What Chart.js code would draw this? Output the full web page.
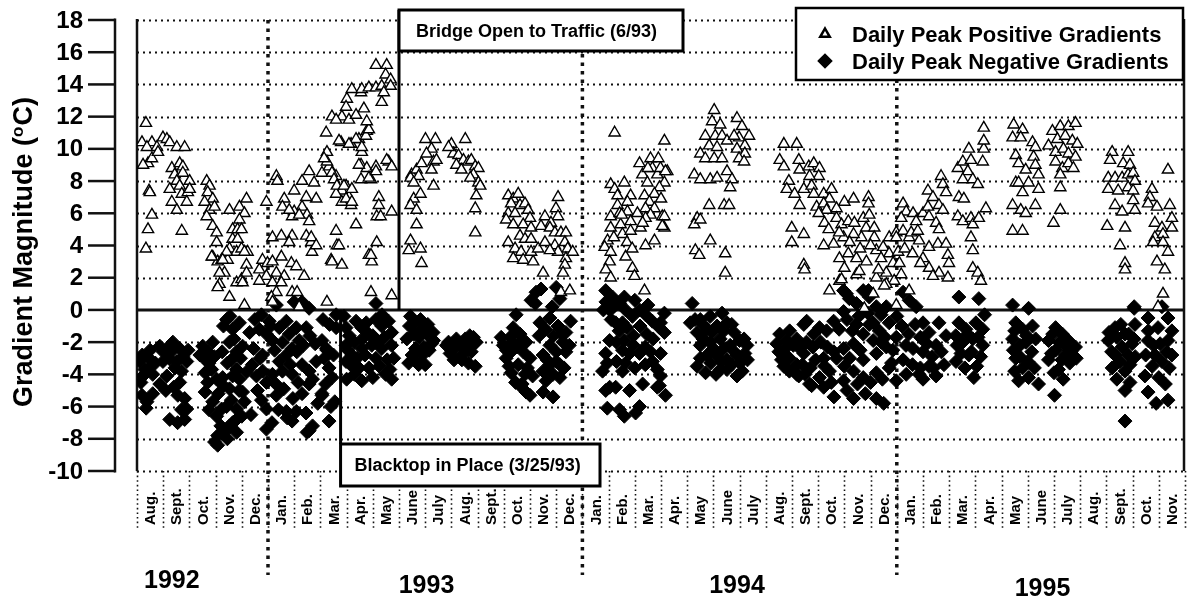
<!DOCTYPE html>
<html>
<head>
<meta charset="utf-8">
<script src="https://cdn.jsdelivr.net/npm/chart.js@4"></script>
<style>
  html, body { margin: 0; padding: 0; background: #fff; }
  canvas { display: block; }
</style>
</head>
<body>
<canvas id="gradients" width="1193" height="597"></canvas>
<script>
// x values are months counted from 1 Aug 1992, y values are degrees C
var monthLabels = ['Aug.', 'Sept.', 'Oct.', 'Nov.', 'Dec.',
  'Jan.', 'Feb.', 'Mar.', 'Apr.', 'May', 'June', 'July', 'Aug.', 'Sept.', 'Oct.', 'Nov.', 'Dec.',
  'Jan.', 'Feb.', 'Mar.', 'Apr.', 'May', 'June', 'July', 'Aug.', 'Sept.', 'Oct.', 'Nov.', 'Dec.',
  'Jan.', 'Feb.', 'Mar.', 'Apr.', 'May', 'June', 'July', 'Aug.', 'Sept.', 'Oct.', 'Nov.'];
var yearLabels = ['1992', '1993', '1994', '1995'];
var yearLabelAt = [1.33, 11.05, 22.9, 34.56];
var yearLabelBase = [588, 593, 593, 596];
var yearStarts = [5, 17, 29];
var yTicks = [18, 16, 14, 12, 10, 8, 6, 4, 2, 0, -2, -4, -6, -8, -10];
var blacktopAt = 7.77;   // 3/25/93
var bridgeAt = 10;       // 6/93

var pos1992 = [[0.34,11.6],[0.19,10.4],[0.57,10.4],[0.38,10.1],[0.76,10.1],[0.99,10.7],[1.14,10.6],[1.25,10.4],[1.52,10.1],[1.82,10.1],
  [0.42,9.1],[0.23,9.0],[0.57,9.4],[0.80,9.8],[0.46,7.4],[0.49,7.3],[0.57,5.9],[0.42,5.0],[0.34,3.8],[1.33,8.8],[1.63,9.1],[1.75,8.9],
  [1.44,8.4],[1.75,8.5],[2.01,8.0],[1.52,8.0],[1.63,7.7],[1.25,7.5],[1.71,7.2],[1.94,7.3],[1.33,6.7],[1.52,6.2],[1.90,6.7],[2.01,7.5],
  [1.71,4.9],[2.66,8.0],[2.77,7.7],[2.70,7.3],[2.89,6.9],[2.58,6.7],[2.77,6.2],[2.96,6.4],[2.66,5.8],[2.89,5.2],[3.04,4.8],[3.04,4.2],
  [2.89,3.3],[3.08,3.0],[3.23,3.1],[3.15,1.6],[3.53,6.2],[3.65,5.0],[3.91,6.4],[4.18,6.9],[4.10,6.0],[3.91,5.6],[3.84,5.0],[3.65,4.4],
  [3.53,3.8],[3.80,3.6],[3.99,3.8],[4.22,3.6],[4.18,2.8],[3.80,1.7],[3.99,1.9],[3.46,3.1],[3.34,2.3],[3.42,3.6],[3.08,1.4],[3.53,0.8],
  [4.10,0.3],[2.85,3.3],[3.27,3.1],[3.15,2.3],[4.10,3.6],[3.84,4.4],[3.99,5.0],[4.18,2.3],[4.03,1.7],[4.67,2.5],[4.79,3.1],[4.98,2.9],
  [4.94,2.1],[4.67,1.8],[4.94,6.7]];
var pos1993 = [[5.17,3.0],[5.51,3.3],[5.89,2.9],[6.08,2.7],[6.38,2.1],[5.32,2.3],[5.62,2.1],[5.17,1.7],[5.51,1.7],[5.92,1.1],[6.11,1.1],
  [5.32,1.1],[5.13,0.8],[5.17,0.5],[6.19,0.2],[7.25,0.5],[5.32,8.3],[5.36,8.0],[5.62,6.9],[5.55,6.4],[6.00,7.4],[6.30,8.0],[6.57,8.6],
  [6.76,7.9],[7.06,8.5],[7.33,8.9],[7.60,8.3],[7.25,9.8],[7.25,9.2],[7.79,10.4],[8.17,10.3],[8.47,10.6],[8.58,9.8],[7.22,11.0],[8.77,11.1],
  [8.55,9.0],[8.77,8.8],[9.12,8.9],[9.61,9.2],[8.93,8.1],[7.98,7.7],[7.82,7.4],[7.60,7.2],[8.09,7.0],[8.17,6.5],[7.82,6.7],[6.84,6.9],
  [6.46,7.0],[6.30,6.4],[6.49,5.9],[6.00,6.1],[5.92,5.8],[6.57,5.5],[6.19,5.9],[5.17,4.5],[5.51,4.6],[5.92,4.6],[6.46,4.6],[6.65,4.2],
  [6.68,3.6],[5.81,4.2],[7.60,4.9],[7.63,4.0],[8.36,5.3],[9.23,7.0],[9.23,6.5],[9.15,5.8],[9.72,6.1],[9.15,4.2],[8.85,3.4],[8.96,3.0],
  [7.41,3.1],[7.82,2.8],[8.93,1.1],[9.72,0.9],[5.81,6.2],[6.65,4.5],[6.84,4.0],[7.14,9.4],[7.44,8.5],[7.52,8.1],[7.63,7.7],[7.90,7.7],
  [7.98,6.9],[8.20,7.5],[8.20,6.7],[7.71,4.0],[7.44,3.0],[8.93,3.4],[9.30,5.8],[8.47,9.0],[8.55,8.1],[8.85,8.2],[9.12,8.6],[9.53,9.3],
  [9.72,8.9],[8.36,10.6],[8.09,10.3],[7.71,10.5],[8.58,10.1],[8.74,10.8],[8.85,11.2],[8.77,11.7],[8.66,12.5],[8.55,13.5],[8.20,13.7],
  [8.01,13.1],[7.98,12.6],[7.82,12.0],[7.44,12.0],[7.60,11.8],[8.09,11.8],[8.36,12.1],[8.58,13.7],[8.85,13.8],[9.12,13.8],[9.34,13.9],
  [9.12,15.2],[9.53,15.2],[9.49,14.6],[9.68,14.3],[9.34,12.9],[9.68,13.9],[9.42,13.5],
  [10.48,8.4],[10.44,8.2],[10.67,8.7],[10.86,9.1],[11.01,10.6],[11.39,10.6],[11.24,10.0],[11.05,9.7],[11.32,9.2],[11.43,9.3],[11.24,8.7],
  [10.75,8.3],[10.56,7.9],[11.32,7.7],[10.56,6.9],[10.82,7.2],[10.44,6.5],[10.67,6.2],[10.67,5.3],[10.44,4.3],[10.82,3.8],[10.37,3.7],
  [10.86,2.9],[12.00,10.3],[12.53,10.6],[12.08,9.7],[12.27,9.6],[12.46,9.3],[12.65,9.2],[12.76,9.3],[12.19,9.0],[12.38,8.7],[12.91,8.9],
  [13.03,8.8],[12.84,8.4],[13.03,7.9],[13.10,7.7],[12.72,8.2],[12.95,7.1],[11.89,10.1],[12.91,6.3],[12.91,4.8],
  [14.17,7.1],[14.36,6.9],[14.55,7.2],[14.28,6.6],[14.62,6.5],[14.81,6.6],[14.17,6.0],[14.43,6.0],[14.93,6.2],[15.00,5.7],[14.09,5.6],
  [14.36,5.3],[14.74,5.3],[15.04,5.1],[14.62,4.6],[14.81,4.4],[15.04,4.4],[14.17,4.2],[14.43,3.8],[14.66,3.6],[14.36,3.2],[14.74,3.1],
  [15.12,3.0],[15.04,3.6],[15.31,3.8],[15.50,2.3],[16.07,7.0],[15.99,6.3],[16.07,5.8],[15.57,5.8],[15.80,5.4],[15.42,5.2],[15.76,5.1],
  [15.95,4.8],[16.18,4.8],[16.37,4.8],[16.33,4.2],[16.44,3.8],[15.95,4.0],[16.07,3.6],[16.37,3.2],[16.33,2.8],[16.26,2.3],[15.57,4.2],
  [15.76,3.7],[16.18,1.1],[16.52,1.2],[16.63,3.6]];
var pos1994 = [[18.23,11.0],[18.08,7.8],[18.23,7.5],[18.34,7.1],[18.84,7.1],[18.72,6.7],[18.34,6.5],[18.08,5.8],[18.42,6.0],[18.72,6.1],
  [18.84,5.5],[18.46,5.3],[18.08,5.1],[18.53,4.7],[18.84,4.9],[17.96,4.3],[17.85,3.9],[18.08,3.6],[18.04,3.0],[17.89,2.5],[18.08,2.0],
  [18.91,2.6],[18.99,2.1],[18.65,3.3],[19.22,5.1],[19.41,4.0],[19.75,4.3],[19.37,7.1],[19.18,9.1],[19.29,8.4],[19.60,9.4],[19.67,8.8],
  [19.48,7.9],[19.86,8.4],[19.98,8.8],[20.24,8.6],[20.13,7.9],[19.94,7.6],[19.75,7.2],[19.56,6.7],[19.41,6.3],[19.75,6.3],[20.05,5.8],
  [20.13,5.1],[19.60,5.9],[19.41,5.7],[20.13,10.5],[19.37,1.2],[20.17,8.6],[20.13,5.8],[20.05,5.2],
  [18.50,5.9],[18.70,4.2],[18.90,3.8],[19.10,6.0],[19.30,5.4],[19.50,8.8],[19.90,9.4],[20.00,6.9],[18.20,4.5],[18.60,7.9],
  [22.03,12.4],[21.95,11.7],[22.26,11.5],[21.69,10.8],[22.07,10.8],[22.33,10.8],[22.52,10.5],[21.84,10.2],[22.14,10.1],[21.50,9.7],
  [21.69,9.4],[22.03,9.4],[22.33,9.4],[22.90,11.9],[23.09,11.4],[23.36,10.8],[22.98,10.7],[22.79,10.8],[23.20,10.2],[22.90,10.0],
  [23.20,9.7],[22.98,9.4],[23.17,9.2],[21.27,8.4],[21.50,8.1],[21.88,8.1],[22.14,8.2],[22.52,8.6],[22.71,8.1],[22.64,7.6],[21.84,6.5],
  [22.41,6.5],[22.60,6.5],[21.38,5.7],[21.27,5.3],[21.50,5.6],[21.88,4.3],[21.31,3.7],[21.46,3.4],[22.45,3.5],[22.45,2.3],
  [24.69,10.3],[25.18,10.3],[24.53,9.3],[24.69,8.9],[25.26,9.3],[25.29,8.7],[25.64,8.9],[25.83,9.1],[26.05,8.8],[26.02,8.3],[25.67,8.3],
  [24.88,8.0],[24.80,7.5],[25.10,7.2],[25.45,7.5],[25.75,7.7],[25.83,7.2],[26.21,7.2],[26.51,7.5],[26.43,6.9],[25.29,6.5],[25.94,6.4],
  [26.21,6.6],[26.32,6.2],[26.70,6.3],[27.00,6.7],[27.35,6.9],[27.92,7.0],[27.92,6.6],[24.99,5.1],[25.45,4.7],[24.99,4.2],[26.02,6.0],
  [26.24,5.4],[26.70,5.7],[26.89,5.3],[27.15,5.5],[27.38,5.4],[27.72,5.7],[27.95,5.9],[27.83,5.1],[28.14,5.1],[28.14,4.5],[27.65,4.5],
  [27.35,4.7],[26.97,4.5],[26.59,4.1],[26.21,4.0],[26.81,3.2],[27.15,3.5],[27.46,3.2],[27.84,3.0],[28.22,3.7],[28.48,3.9],[28.71,4.5],
  [28.98,4.8],[28.71,3.5],[28.86,2.9],[28.60,2.3],[28.90,1.8],[28.60,1.6],[28.22,2.0],[27.46,2.2],[27.57,2.4],[26.81,1.8],[26.43,1.2],
  [25.45,2.8],[25.48,2.5],[27.76,0.1],[28.10,1.0],[28.52,1.5],[26.89,1.9],
  [26.40,5.0],[26.80,4.8],[27.20,4.2],[27.60,3.8],[28.00,4.0],[28.40,3.2],[27.00,2.6],[28.30,2.5]];
var pos1995 = [[29.10,2.9],[29.17,2.2],[29.24,6.6],[29.36,6.1],[29.17,5.7],[29.62,6.0],[29.74,5.5],[30.00,6.0],[30.19,6.4],[30.23,5.8],
  [30.50,5.4],[30.61,5.0],[30.19,7.4],[30.38,7.0],[30.69,8.3],[30.76,7.8],[30.88,7.3],[30.61,6.5],[30.76,6.2],[29.24,4.9],[29.47,4.5],
  [28.98,4.5],[29.85,4.3],[30.23,3.9],[30.57,4.1],[30.88,4.1],[30.00,3.2],[30.23,2.6],[30.95,3.4],[30.99,2.9],[30.61,2.3],[30.95,2.0],
  [30.38,2.1],[29.47,1.2],[28.98,0.3],[29.05,3.6],[29.30,3.8],[29.60,3.5],[29.90,2.9],[29.55,4.8],[29.80,4.9],
  [31.33,8.8],[31.52,9.2],[31.75,10.0],[31.83,9.3],[31.71,8.6],[31.52,8.1],[31.90,8.1],[32.09,7.8],[32.28,9.2],[32.32,10.0],[32.32,10.5],
  [32.32,11.3],[31.37,7.0],[31.56,6.9],[31.33,5.8],[31.52,5.5],[31.83,5.7],[31.90,5.3],[32.13,5.7],[32.40,6.3],[31.83,4.5],[31.90,3.7],
  [31.90,2.6],[32.09,2.3],[32.21,1.8],
  [33.46,11.5],[33.80,11.2],[33.42,10.7],[33.73,10.7],[34.18,10.4],[34.29,10.1],[34.22,9.5],[33.54,9.6],[33.65,9.1],[33.92,8.7],
  [34.29,9.0],[34.41,8.4],[33.54,7.9],[33.80,7.3],[33.65,7.9],[34.03,7.9],[34.41,7.5],[33.42,6.5],[33.73,6.2],[34.29,6.5],[33.92,6.0],
  [33.42,4.9],[33.80,4.9],[34.94,11.1],[35.24,11.4],[35.55,11.4],[35.82,11.6],[35.13,10.6],[35.43,10.8],[35.70,10.5],[35.89,10.3],
  [34.79,10.2],[35.06,9.8],[35.36,10.0],[35.55,9.7],[35.82,9.5],[35.06,9.2],[35.32,8.8],[35.55,9.1],[35.74,8.8],[35.24,8.4],[35.24,7.6],
  [35.24,6.2],[34.98,5.4],
  [37.22,9.8],[37.83,9.8],[37.14,9.3],[37.64,9.1],[37.90,9.0],[37.07,8.2],[37.33,8.2],[37.60,8.2],[37.83,8.4],[38.02,8.5],[38.09,8.0],
  [37.07,7.5],[37.45,7.4],[37.83,7.6],[38.02,7.4],[37.33,6.5],[37.60,6.1],[38.02,6.8],[38.09,6.2],[37.03,5.2],[37.71,5.1],[37.52,4.0],
  [37.71,2.9],[37.71,2.5],[38.74,7.5],[38.66,7.0],[38.59,6.6],[38.93,6.4],[39.42,6.5],[39.50,5.7],[39.35,8.7],[38.85,5.4],[39.12,5.1],
  [39.50,5.1],[38.85,4.5],[39.16,4.7],[38.78,4.2],[39.16,4.2],[39.35,3.6],[38.93,3.0],[39.23,2.5],[39.16,1.0],[38.97,0.2]];

var neg1992 = [[0.11,-3.2],[0.30,-3.7],[0.49,-3.05],[0.23,-4.1],[0.19,-5.3],[0.38,-5.7],[0.87,-2.25],[1.14,-2.4],[1.37,-2.0],[1.63,-2.4],
  [0.99,-3.2],[1.25,-3.05],[1.52,-3.2],[1.75,-2.9],[1.90,-3.2],[1.14,-4.1],[1.63,-4.5],[0.87,-4.6],[1.25,-6.8],[1.82,-5.5],[1.90,-6.15],
  [1.82,-6.8],[1.56,-5.3],[2.51,-2.25],[2.58,-3.05],[2.70,-2.6],[2.89,-2.0],[2.85,-3.7],[2.70,-4.5],[3.04,-4.3],[3.27,-4.2],[2.89,-5.7],
  [3.23,-6.15],[3.42,-6.0],[3.53,-4.9],[3.04,-6.6],[3.08,-7.8],[2.96,-8.2],[3.34,-7.6],[3.65,-7.0],[3.80,-6.8],[3.08,-8.4],[3.53,-7.2],
  [3.80,-7.6],[3.42,-0.6],[3.65,-1.2],[3.91,-0.8],[3.53,-2.0],[3.80,-2.6],[4.03,-2.25],[3.80,-3.7],[3.91,-4.3],[3.65,-4.1],[4.18,-3.85],
  [4.03,-5.1],[3.80,-6.15],[4.10,-5.7],[4.67,-1.2],[4.94,-1.5],[4.56,-4.1],[4.94,-4.5],[4.94,-6.15],[4.94,-7.4],
  [0.20,-2.8],[0.45,-3.6],[0.60,-4.0],[0.15,-4.5],[0.50,-2.5],[0.70,-3.3],[0.35,-6.1],[0.60,-5.2],
  [1.00,-2.6],[1.30,-2.6],[1.45,-3.6],[1.70,-3.8],[1.95,-2.5],[1.40,-4.8],[1.10,-5.0],[1.70,-6.2],[1.55,-7.0],
  [2.40,-2.8],[2.60,-3.9],[2.75,-3.3],[2.95,-2.9],[2.60,-5.1],[3.10,-5.2],[2.75,-6.2],
  [3.30,-1.0],[3.55,-0.4],[3.70,-1.8],[3.25,-2.6],[3.45,-3.3],[3.60,-3.1],[3.95,-3.0],[3.30,-4.7],[3.60,-5.6],[3.90,-5.0],[4.00,-6.6],
  [3.20,-7.2],[3.45,-8.0],[4.30,-1.4],[4.50,-0.6],[4.75,-0.3],[4.45,-2.4],[4.70,-3.0],[4.40,-3.4],[4.80,-3.8],[4.60,-5.0],[4.35,-6.5],
  [4.75,-5.6]];
var neg1993 = [[5.05,-0.7],[5.43,-1.1],[5.70,-0.7],[5.81,-1.5],[6.08,-1.1],[5.17,-1.9],[4.79,-2.8],[5.43,-3.2],[5.70,-2.8],[5.92,-2.4],
  [6.19,-1.9],[6.46,-1.1],[6.57,0.1],[6.30,0.5],[6.00,0.5],[5.32,0.3],[5.17,-4.0],[5.55,-3.8],[5.92,-4.0],[6.30,-3.4],[6.57,-3.8],
  [6.84,-3.2],[7.22,-2.4],[7.33,-3.6],[6.57,-4.6],[6.30,-5.2],[7.06,-5.2],[5.32,-5.3],[5.70,-6.3],[5.92,-6.9],[6.57,-7.5],[7.33,-6.9],
  [7.06,-1.9],[7.60,-1.1],[5.73,-6.7],[6.08,-6.3],[6.49,-7.6],[7.06,-5.3],[7.25,-2.5],[7.60,-0.3],[7.98,-1.1],[8.36,-0.7],[8.58,-1.1],
  [8.85,-1.5],[9.12,-0.6],[9.34,-1.0],[9.72,-1.4],[7.98,-2.2],[8.20,-2.8],[8.58,-2.4],[8.96,-2.2],[9.34,-2.4],[9.72,-2.2],[7.98,-3.2],
  [8.47,-3.6],[8.85,-3.6],[9.12,-3.0],[9.49,-4.0],[9.72,-4.3],[8.58,-4.4],[9.12,0.4],
  [5.10,-1.0],[5.25,-2.5],[5.55,-2.0],[5.85,-3.4],[5.30,-4.6],[5.60,-4.9],[5.95,-5.5],[5.40,-6.2],[5.15,-7.0],
  [6.10,-2.6],[6.35,-2.2],[6.60,-1.6],[6.80,-2.1],[6.70,-4.3],[6.15,-4.5],[6.90,-5.8],[6.45,-6.4],[6.70,-7.2],
  [7.10,-0.6],[7.35,-0.9],[7.50,-2.8],[7.15,-3.0],[7.45,-4.2],[7.20,-4.6],[7.55,-5.7],[7.40,-6.0],
  [7.90,-0.4],[8.10,-1.6],[8.30,-2.0],[8.05,-2.5],[8.40,-3.0],[8.15,-3.4],[8.70,-2.8],[8.30,-4.0],[8.00,-4.3],[8.60,-1.8],[8.75,-0.8],
  [9.00,-1.6],[9.20,-2.0],[9.45,-1.7],[9.60,-0.7],[9.25,-3.5],[9.55,-3.1],[9.80,-3.0],[9.35,-0.3],[9.00,-4.2],[9.65,-3.7],
  [10.44,-0.4],[10.82,-0.6],[10.56,-1.5],[10.30,-1.8],[10.75,-1.7],[11.05,-1.5],[11.24,-2.1],[10.63,-2.4],[10.94,-2.3],[11.32,-1.9],
  [10.37,-3.3],[10.75,-3.4],[10.94,-0.9],[10.40,-1.0],[10.60,-0.8],[10.85,-1.2],[11.10,-0.9],[11.30,-1.4],[10.50,-2.8],[10.90,-2.8],
  [11.15,-2.5],[10.65,-3.2],[11.00,-3.4],
  [11.89,-2.0],[12.19,-1.8],[12.53,-1.8],[12.84,-1.7],[12.08,-2.4],[12.46,-2.4],[12.76,-2.6],[12.95,-2.0],[12.65,-3.3],[12.91,-3.5],
  [12.31,-2.9],[11.81,-2.2],[11.95,-2.7],[12.15,-2.2],[12.35,-2.1],[12.60,-2.5],[12.80,-2.2],[12.40,-3.1],[12.10,-3.1],[12.70,-1.6],
  [14.47,-0.3],[14.36,-1.1],[14.24,-1.7],[14.62,-1.5],[13.98,-2.2],[14.28,-2.6],[14.85,-2.0],[14.74,-2.6],[15.00,-3.0],[14.09,-3.0],
  [14.55,-3.4],[14.28,-3.9],[14.81,-4.0],[14.62,-4.7],[14.85,-5.1],[15.00,-5.3],[13.90,-1.7],[15.23,1.1],[15.42,1.3],[15.04,0.6],
  [16.00,1.4],[16.14,0.7],[15.38,-0.8],[15.76,-0.5],[16.07,-1.0],[16.37,-1.4],[16.26,-2.0],[15.76,-2.2],[15.50,-2.8],[16.00,-2.6],
  [16.37,-2.6],[15.76,-3.4],[16.14,-3.4],[15.50,-3.8],[15.88,-4.0],[15.61,-4.4],[15.50,-5.1],[15.88,-5.4],[16.14,-4.2],
  [14.10,-2.5],[14.35,-2.0],[14.50,-2.3],[14.70,-1.9],[14.20,-3.5],[14.45,-4.5],[14.90,-3.6],[15.10,-4.1],[14.70,-4.6],[15.20,0.4],
  [15.35,-1.6],[15.60,-1.2],[15.90,-1.6],[16.20,-1.5],[15.65,-3.1],[16.00,-3.2],[16.30,-3.6],[16.50,-2.2],[16.55,-0.7],[15.85,0.2]];
var neg1994 = [[17.89,1.2],[18.15,0.8],[18.04,0.0],[18.42,0.4],[18.65,0.0],[18.53,-0.8],[18.27,-0.8],[18.91,-0.4],[19.18,0.0],[19.41,-0.3],
  [19.67,-0.7],[19.94,-1.1],[18.04,-1.9],[17.89,-2.7],[18.53,-2.5],[18.80,-2.7],[19.18,-2.7],[18.65,-3.3],[18.53,-3.8],[17.77,-3.8],
  [18.04,-4.8],[17.89,-5.0],[18.27,-4.8],[18.80,-5.0],[18.42,-6.2],[19.18,-6.0],[19.03,-6.4],[19.86,-3.7],[19.94,-4.7],[19.67,-3.2],
  [20.17,-5.3],[19.86,-4.8],[19.98,-0.8],[20.13,-1.4],[19.98,-2.7],[19.98,-4.1],[20.13,-0.2],
  [17.90,0.5],[18.20,0.2],[18.10,-0.6],[18.40,-1.3],[18.70,-1.1],[18.95,-1.6],[19.20,-1.0],[19.45,-1.5],[19.70,-1.8],[18.30,-2.0],
  [18.60,-1.9],[18.95,-2.2],[19.40,-2.3],[19.60,-2.6],[17.95,-3.3],[18.30,-3.2],[19.00,-3.6],[19.40,-3.4],[17.80,0.0],[19.00,0.6],
  [19.50,0.3],[18.60,0.8],[17.95,-6.1],[18.60,-6.6],[19.30,-4.6],
  [21.19,0.4],[21.12,-0.8],[21.50,-0.6],[21.88,-0.4],[22.33,-0.2],[21.38,-1.4],[21.76,-1.2],[22.14,-1.0],[22.52,-0.8],[22.79,-1.4],
  [23.17,-1.8],[23.28,-2.2],[21.50,-2.2],[21.88,-2.0],[22.26,-1.8],[22.64,-2.2],[21.76,-2.8],[22.14,-2.8],[22.52,-3.1],[22.90,-2.8],
  [21.38,-3.5],[22.26,-3.7],[22.52,-3.7],[23.02,-3.3],
  [21.30,-0.6],[21.60,-0.9],[21.95,-1.4],[22.40,-1.3],[22.70,-0.9],[23.00,-1.9],[23.20,-2.7],[21.60,-1.8],[22.00,-2.4],[22.40,-2.4],
  [22.80,-2.6],[21.50,-3.0],[21.90,-3.3],[22.30,-3.2],[22.70,-3.4],[23.10,-3.8],[21.70,-3.9],[22.10,-4.0],[22.90,-4.1],[23.30,-3.1],
  [24.53,-1.5],[24.80,-1.9],[24.42,-2.1],[24.91,-1.3],[25.18,-1.8],[25.45,-0.9],[25.56,-0.7],[25.83,-1.5],[26.05,-1.1],[26.32,-1.3],
  [26.59,-0.7],[26.97,1.2],[27.19,0.7],[27.46,0.4],[27.72,1.2],[27.95,0.8],[28.22,0.2],[26.97,-0.1],[24.69,-2.7],[25.18,-3.4],
  [25.45,-2.7],[25.18,-4.0],[25.67,-4.6],[26.05,-4.2],[26.43,-3.8],[26.21,-3.0],[26.70,-3.0],[26.97,-2.4],[27.35,-2.1],[27.72,-1.5],
  [27.46,-0.9],[27.95,-0.9],[28.33,-1.3],[28.71,-0.8],[28.98,-1.7],[28.60,-2.3],[28.22,-2.7],[27.72,-3.1],[27.35,-3.8],[26.97,-4.4],
  [27.72,-4.2],[28.22,-3.9],[28.71,-3.6],[27.35,-5.5],[28.22,-5.5],[28.98,-4.4],[26.21,-4.8],[24.69,-3.5],[25.26,-4.1],[25.75,-4.7],
  [27.08,1.0],[27.92,1.2],[28.60,0.2],
  [24.50,-2.6],[24.80,-2.3],[25.05,-2.2],[25.30,-2.4],[25.55,-2.0],[25.80,-2.3],[26.10,-2.0],[26.35,-2.3],[24.60,-3.1],[24.90,-3.0],
  [25.40,-3.4],[25.70,-3.6],[25.90,-3.1],[26.25,-3.5],[24.90,-3.8],[25.50,-4.0],[26.50,-4.5],[26.60,-2.6],[26.80,-1.2],[27.10,-0.6],
  [27.30,-1.3],[27.55,-0.4],[27.90,-0.2],[28.10,-0.8],[28.40,-0.3],[28.55,-1.7],[28.85,-2.5],[28.40,-2.0],[28.10,-1.9],[27.60,-2.5],
  [27.20,-3.0],[27.00,-3.5],[27.50,-4.6],[28.00,-4.5],[28.45,-4.3],[28.80,-3.3],[27.10,-5.0],[27.80,-5.2],[28.50,-5.8],[26.60,-5.4]];
var neg1995 = [[29.24,-3.1],[29.62,-2.4],[29.36,-4.0],[29.85,-4.0],[29.24,1.1],[29.47,0.6],[29.74,0.2],[30.00,-0.8],[30.23,-1.4],
  [30.61,-0.8],[30.88,-1.6],[30.50,-2.2],[30.00,-2.6],[30.23,-3.5],[30.50,-4.1],[30.00,-4.3],[31.37,0.8],[32.13,0.7],[31.37,-0.8],
  [31.64,-1.2],[32.02,-0.8],[32.28,-1.2],[31.90,-1.8],[31.52,-2.0],[32.28,-2.2],[31.75,-2.8],[31.26,-3.2],[31.94,-4.2],
  [29.00,-0.4],[29.20,-1.0],[29.45,-1.5],[29.70,-0.9],[29.35,-2.2],[29.60,-3.4],[29.90,-1.7],[30.15,-2.1],[30.35,-2.9],[30.70,-2.6],
  [30.80,-3.4],[30.40,-3.6],[29.90,-3.6],[31.25,-1.6],[31.45,-2.7],[31.70,-1.5],[31.85,-2.6],[32.10,-1.7],[32.20,-2.9],[31.60,-3.6],
  [31.30,-2.2],[32.35,-0.3],[32.05,-3.5],
  [33.42,0.3],[34.03,0.1],[33.54,-0.8],[33.80,-1.2],[34.18,-1.0],[33.42,-1.8],[33.92,-2.0],[33.54,-3.0],[33.80,-3.6],[34.03,-4.2],
  [34.41,-4.6],[33.65,-4.4],[35.06,-1.1],[35.32,-1.5],[35.55,-1.9],[35.82,-2.3],[34.79,-1.9],[35.06,-2.5],[35.43,-2.8],[34.79,-3.1],
  [35.17,-3.7],[35.02,-5.3],
  [33.50,-1.3],[33.70,-2.2],[33.95,-1.6],[34.15,-2.6],[33.45,-2.5],[33.70,-2.9],[34.00,-3.2],[34.25,-3.6],[33.50,-3.8],[34.30,-1.8],
  [34.95,-1.5],[35.20,-2.0],[35.40,-2.2],[35.65,-2.6],[35.30,-3.1],[35.60,-3.3],[35.85,-3.0],[35.00,-3.9],[35.35,-4.3],[34.90,-2.7],
  [38.06,0.2],[37.33,-1.1],[37.71,-1.5],[38.09,-0.9],[37.07,-1.9],[37.60,-2.3],[37.98,-2.1],[37.33,-2.8],[37.83,-2.8],[37.22,-3.6],
  [37.71,-3.8],[37.71,-5.0],[38.59,-0.5],[38.97,-1.1],[39.35,-1.9],[39.50,-2.8],[38.59,-1.9],[38.85,-2.8],[39.12,-3.2],[38.47,-4.1],
  [38.59,-5.1],[39.35,-5.6],[39.35,-0.5],[39.12,0.2],[37.71,-6.9],[38.06,0.1],
  [37.10,-1.4],[37.40,-1.7],[37.55,-0.9],[37.85,-1.5],[38.05,-1.8],[37.20,-2.6],[37.50,-3.2],[37.90,-3.4],[38.10,-2.9],[37.40,-4.3],
  [37.90,-4.5],[38.60,-1.3],[38.80,-2.2],[39.05,-2.1],[39.30,-2.6],[38.75,-3.5],[39.00,-4.2],[39.40,-3.6],[39.25,-4.6],[38.90,-5.8],
  [38.50,-2.8],[39.50,-1.3]];

function toPoints(list) {
  return list.map(function (p) { return { x: p[0], y: p[1] }; });
}

var FONT = '"Liberation Sans", Arial, sans-serif';

function dotted(ctx, x1, y1, x2, y2, w, dash) {
  ctx.lineWidth = w;
  ctx.setLineDash(dash);
  ctx.beginPath();
  ctx.moveTo(x1, y1);
  ctx.lineTo(x2, y2);
  ctx.stroke();
}

var decor = {
  id: 'decor',
  beforeDatasetsDraw: function (chart) {
    var ctx = chart.ctx, a = chart.chartArea, x = chart.scales.x, y = chart.scales.y;
    ctx.save();
    ctx.strokeStyle = '#111';
    ctx.fillStyle = '#000';

    // dotted grid
    yTicks.forEach(function (v) {
      if (v === 0) return;
      var py = Math.round(y.getPixelForValue(v)) + 0.5;
      dotted(ctx, a.left, py, a.right, py, 2, [2, 4]);
    });
    // month separators under the plot
    for (var m = 0; m <= monthLabels.length; m++) {
      var px = Math.round(x.getPixelForValue(m)) + 0.5;
      dotted(ctx, px, a.bottom, px, a.bottom + 58, 1.6, [1.6, 3]);
    }
    // year boundaries
    yearStarts.forEach(function (m) {
      var px = x.getPixelForValue(m);
      dotted(ctx, px, a.top, px, a.bottom + 104, 3.5, [3.5, 5]);
    });
    ctx.setLineDash([]);
    // zero line
    var y0 = y.getPixelForValue(0);
    dotted(ctx, a.left, y0, a.right, y0, 3, []);
    // plot borders
    dotted(ctx, a.left, a.top - 1, a.left, a.bottom, 2.5, []);
    dotted(ctx, a.right - 1, a.top - 1, a.right - 1, a.bottom, 2.5, []);

    // separate y axis with tick marks
    var axX = a.left - 22;
    dotted(ctx, axX, y.getPixelForValue(18) - 1.5, axX, y.getPixelForValue(-10) + 1.5, 2.5, []);
    ctx.font = 'bold 24px ' + FONT;
    ctx.textAlign = 'right';
    ctx.textBaseline = 'middle';
    yTicks.forEach(function (v) {
      var py = y.getPixelForValue(v);
      dotted(ctx, axX - 27, py, axX, py, 2.5, []);
      ctx.fillText(String(v), axX - 32, py + 1);
    });

    // axis title with superscript o
    ctx.save();
    ctx.translate(25, 252);
    ctx.rotate(-Math.PI / 2);
    ctx.textAlign = 'left';
    ctx.textBaseline = 'middle';
    var t1 = 'Gradient Magnitude (', t2 = 'C)';
    ctx.font = 'bold 27px ' + FONT;
    var w1 = ctx.measureText(t1).width, w3 = ctx.measureText(t2).width;
    ctx.font = 'bold 17px ' + FONT;
    var w2 = ctx.measureText('o').width + 1;
    var sx = -(w1 + w2 + w3) / 2;
    ctx.font = 'bold 27px ' + FONT;
    ctx.fillText(t1, sx, 0);
    ctx.fillText(t2, sx + w1 + w2, 0);
    ctx.font = 'bold 17px ' + FONT;
    ctx.fillText('o', sx + w1, -7);
    ctx.restore();

    // month labels
    ctx.font = 'bold 15px ' + FONT;
    monthLabels.forEach(function (lab, i) {
      ctx.save();
      ctx.translate(x.getPixelForValue(i + 0.5), a.bottom + 54);
      ctx.rotate(-Math.PI / 2);
      ctx.textAlign = 'left';
      ctx.textBaseline = 'middle';
      ctx.fillText(lab, 0, 1);
      ctx.restore();
    });
    // year labels
    ctx.font = 'bold 25px ' + FONT;
    ctx.textAlign = 'center';
    ctx.textBaseline = 'alphabetic';
    yearLabels.forEach(function (lab, i) {
      ctx.fillText(lab, x.getPixelForValue(yearLabelAt[i]), yearLabelBase[i]);
    });
    ctx.restore();
  },
  afterDatasetsDraw: function (chart) {
    var ctx = chart.ctx, a = chart.chartArea, x = chart.scales.x, y = chart.scales.y;
    ctx.save();
    ctx.strokeStyle = '#000';
    ctx.fillStyle = '#000';
    ctx.setLineDash([]);
    var y0 = y.getPixelForValue(0);

    // bridge opened
    var bx = x.getPixelForValue(bridgeAt);
    dotted(ctx, bx, 10, bx, y0, 3, []);
    ctx.fillStyle = '#fff';
    ctx.fillRect(bx, 10, 683 - bx, 41);
    ctx.lineWidth = 3;
    ctx.strokeRect(bx, 10, 683 - bx, 41);
    ctx.fillStyle = '#000';
    ctx.font = 'bold 18px ' + FONT;
    ctx.textAlign = 'left';
    ctx.textBaseline = 'alphabetic';
    ctx.fillText('Bridge Open to Traffic (6/93)', bx + 17, 37);

    // blacktop placed
    var kx = x.getPixelForValue(blacktopAt);
    dotted(ctx, kx, y0, kx, 444, 3, []);
    ctx.fillStyle = '#fff';
    ctx.fillRect(kx, 444, 600 - kx, 42);
    ctx.lineWidth = 3;
    ctx.strokeRect(kx, 444, 600 - kx, 42);
    ctx.fillStyle = '#000';
    ctx.fillText('Blacktop in Place (3/25/93)', kx + 14, 471);

    // legend box
    ctx.fillStyle = '#fff';
    ctx.fillRect(796, 8, 387, 72);
    ctx.lineWidth = 2.5;
    ctx.strokeRect(796, 8, 387, 72);
    var ds = chart.data.datasets;
    Chart.helpers.drawPoint(ctx, { pointStyle: 'triangle', radius: 5.5, borderWidth: 2 }, 825, 34);
    ctx.fillStyle = '#000';
    Chart.helpers.drawPoint(ctx, { pointStyle: 'rectRot', radius: 6, borderWidth: 1 }, 825, 61);
    ctx.fillStyle = '#000';
    ctx.font = 'bold 22px ' + FONT;
    ctx.fillText(ds[0].label, 852, 42);
    ctx.fillText(ds[1].label, 852, 69);
    ctx.restore();
  }
};

new Chart(document.getElementById('gradients'), {
  type: 'scatter',
  data: {
    datasets: [{
      label: 'Daily Peak Positive Gradients',
      data: toPoints(pos1992.concat(pos1993, pos1994, pos1995)),
      pointStyle: 'triangle',
      pointRadius: 6.5,
      backgroundColor: '#fff',
      borderColor: '#000',
      borderWidth: 1.4
    }, {
      label: 'Daily Peak Negative Gradients',
      data: toPoints(neg1992.concat(neg1993, neg1994, neg1995)),
      pointStyle: 'rectRot',
      pointRadius: 7,
      backgroundColor: '#000',
      borderColor: '#000',
      borderWidth: 1
    }]
  },
  options: {
    responsive: false,
    animation: false,
    events: [],
    layout: { padding: { left: 137, right: 3, top: 20, bottom: 126 } },
    plugins: { legend: { display: false }, tooltip: { enabled: false } },
    scales: {
      x: { type: 'linear', min: 0, max: 40, display: false },
      y: { min: -10, max: 18, display: false }
    }
  },
  plugins: [decor]
});
</script>
</body>
</html>
